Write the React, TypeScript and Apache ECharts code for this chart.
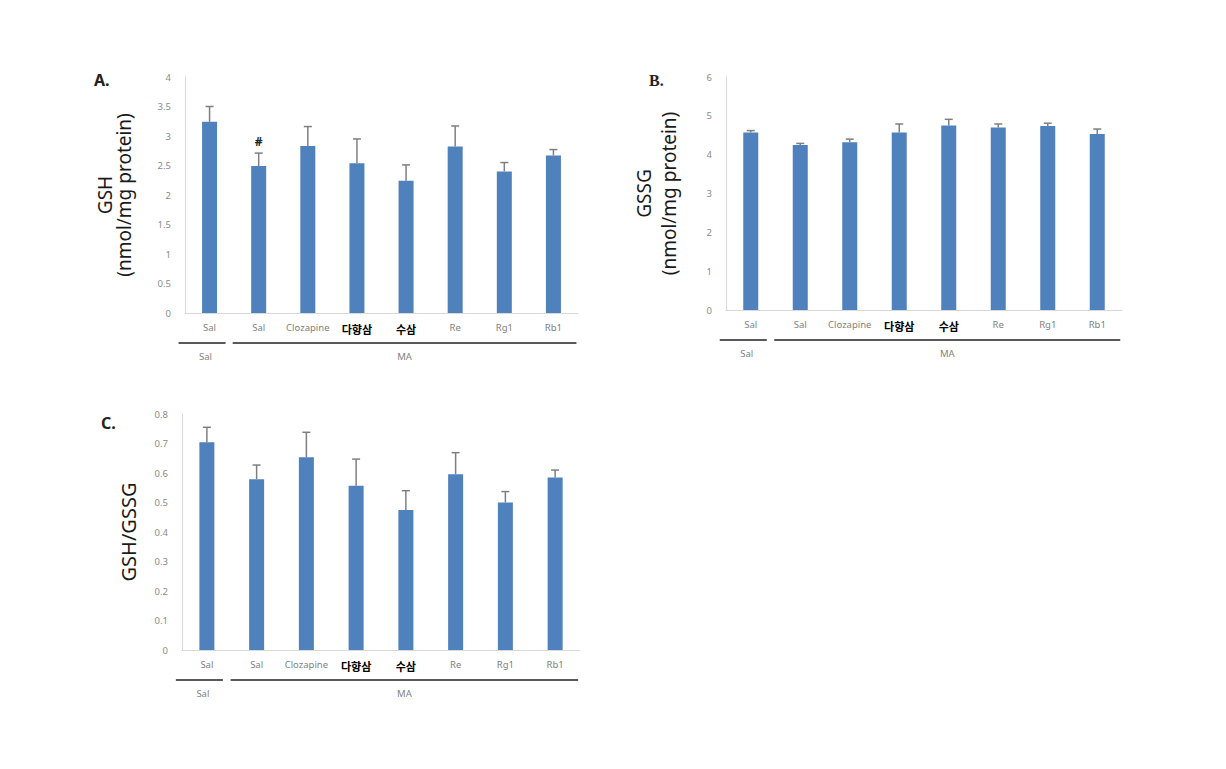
import React, { useEffect, useRef } from "react";
import * as echarts from "echarts";

const categories = ["Sal", "Sal", "Clozapine", "다향삼", "수삼", "Re", "Rg1", "Rb1"];
const koreanCats = ["다향삼", "수삼"];
const groupLabels = ["Sal", "MA"];

const gshMean = [3.24, 2.49, 2.83, 2.54, 2.24, 2.82, 2.4, 2.67];
const gshErr = [0.26, 0.22, 0.33, 0.41, 0.27, 0.35, 0.15, 0.1];
const gshMarks = ["", "#", "", "", "", "", "", ""];

const gssgMean = [4.57, 4.25, 4.32, 4.57, 4.75, 4.7, 4.74, 4.53];
const gssgErr = [0.05, 0.04, 0.08, 0.22, 0.16, 0.09, 0.07, 0.13];
const gssgMarks = ["", "", "", "", "", "", "", ""];

const ratioMean = [0.704, 0.579, 0.653, 0.557, 0.475, 0.596, 0.5, 0.585];
const ratioErr = [0.051, 0.048, 0.085, 0.09, 0.065, 0.073, 0.037, 0.025];
const ratioMarks = ["", "", "", "", "", "", "", ""];

const yMaxes = [4, 6, 0.8];
const yIntervals = [0.5, 1, 0.1];
const panelLetters = ["A.", "B.", "C."];
const yTitles = ["GSH\n(nmol/mg protein)", "GSSG\n(nmol/mg protein)", "GSH/GSSG"];

const BAR = "#4f81bd";
const FONT = "'Noto Sans', 'Noto Sans CJK KR', sans-serif";

export default function App() {
  const ref = useRef<HTMLDivElement>(null);
  useEffect(() => {
    if (!ref.current) return;
    const chart = echarts.init(ref.current, undefined, { renderer: "svg" });
    const grids = [
      { left: 185, top: 77, width: 393, height: 236 },
      { left: 726, top: 77, width: 396, height: 233 },
      { left: 182, top: 414, width: 398, height: 236 },
    ];
    const means = [gshMean, gssgMean, ratioMean];
    const errs = [gshErr, gssgErr, ratioErr];
    const marks = [gshMarks, gssgMarks, ratioMarks];
    const nameGaps = [52, 45, 44];
    const lineHeights = [19, 25, 20];
    const nameSizes = [19, 19, 20];

    const xAxes = grids.map((_, i) => ({
      type: "category",
      gridIndex: i,
      data: categories,
      axisLine: { show: true, lineStyle: { color: "#d9d9d9", width: 1 } },
      axisTick: { show: false },
      axisLabel: {
        interval: 0,
        margin: 10,
        color: "#7f7f7f",
        fontSize: 9.5,
        fontFamily: FONT,
        formatter: (v: string) => (koreanCats.indexOf(v) >= 0 ? `{k|${v}}` : v),
        rich: {
          k: { fontWeight: "bold", color: "#000", fontSize: 11, fontFamily: "'Noto Sans CJK KR', sans-serif" },
        },
      },
    }));

    const yAxes = grids.map((_, i) => ({
      type: "value",
      gridIndex: i,
      min: 0,
      max: yMaxes[i],
      interval: yIntervals[i],
      axisLine: { show: true, lineStyle: { color: "#d9d9d9", width: 1 } },
      axisTick: { show: false },
      splitLine: { show: false },
      axisLabel: { color: "#8a8a8a", fontSize: 9.5, margin: 14, fontFamily: FONT },
      name: yTitles[i],
      nameLocation: "middle",
      nameRotate: 90,
      nameGap: nameGaps[i],
      nameTextStyle: {
        fontSize: nameSizes[i],
        color: "#1a1a1a",
        fontFamily: FONT,
        lineHeight: lineHeights[i],
        align: "center",
      },
    }));

    const series: any[] = [];
    grids.forEach((_, i) => {
      series.push({
        type: "bar",
        xAxisIndex: i,
        yAxisIndex: i,
        data: means[i],
        barWidth: 15,
        itemStyle: { color: BAR },
        silent: true,
      });
      series.push({
        type: "custom",
        xAxisIndex: i,
        yAxisIndex: i,
        silent: true,
        data: means[i].map((m, j) => [j, m, m + errs[i][j]]),
        renderItem: (params: any, api: any) => {
          const idx = api.value(0);
          const base = api.coord([idx, api.value(1)]);
          const top = api.coord([idx, api.value(2)]);
          const children: any[] = [
            { type: "line", shape: { x1: base[0], y1: base[1], x2: top[0], y2: top[1] }, style: { stroke: "#7f7f7f", lineWidth: 1.5 } },
            { type: "line", shape: { x1: top[0] - 4, y1: top[1], x2: top[0] + 4, y2: top[1] }, style: { stroke: "#7f7f7f", lineWidth: 1.5 } },
          ];
          const mk = marks[i][params.dataIndex];
          if (mk) {
            children.push({
              type: "text",
              style: { text: mk, x: top[0], y: top[1] - 6, align: "center", verticalAlign: "bottom", fill: "#222", font: "bold 12px " + FONT },
            });
          }
          return { type: "group", children };
        },
      });
    });

    chart.setOption({
      animation: false,
      grid: grids.map((g) => ({ ...g, containLabel: false })),
      xAxis: xAxes,
      yAxis: yAxes,
      series,
    });

    // Group bracket lines and labels, positioned from the axes
    const graphics: any[] = [];
    const letterPos = [
      { dx: -91, dy: 3, font: "bold 16px " + FONT },
      { dx: -77, dy: 3, font: "bold 16px 'Liberation Serif', serif" },
      { dx: -81, dy: 9, font: "bold 16px " + FONT },
    ];
    grids.forEach((g, i) => {
      const c0 = chart.convertToPixel({ gridIndex: i }, [0, 0]) as number[];
      const c1 = chart.convertToPixel({ gridIndex: i }, [1, 0]) as number[];
      const c7 = chart.convertToPixel({ gridIndex: i }, [categories.length - 1, 0]) as number[];
      const yLine = c0[1] + 30;
      const salX0 = c0[0] - 31;
      const salX1 = c0[0] + 16;
      const maX0 = c1[0] - 26;
      const maX1 = c7[0] + 23;
      graphics.push(
        { type: "line", shape: { x1: salX0, y1: yLine, x2: salX1, y2: yLine }, style: { stroke: "#595959", lineWidth: 2 } },
        { type: "line", shape: { x1: maX0, y1: yLine, x2: maX1, y2: yLine }, style: { stroke: "#595959", lineWidth: 2 } },
        { type: "text", style: { text: groupLabels[0], x: c0[0] - 4, y: yLine + 13, align: "center", verticalAlign: "middle", fill: "#7f7f7f", font: "9.5px " + FONT } },
        { type: "text", style: { text: groupLabels[1], x: (maX0 + maX1) / 2, y: yLine + 13, align: "center", verticalAlign: "middle", fill: "#7f7f7f", font: "9.5px " + FONT } },
        { type: "text", style: { text: panelLetters[i], x: g.left + letterPos[i].dx, y: g.top + letterPos[i].dy, align: "left", verticalAlign: "middle", fill: "#222", font: letterPos[i].font } }
      );
    });
    chart.setOption({ graphic: graphics });

    return () => chart.dispose();
  }, []);
  return <div ref={ref} style={{ position: "fixed", left: 0, top: 0, width: 1226, height: 769, background: "#fff" }} />;
}
